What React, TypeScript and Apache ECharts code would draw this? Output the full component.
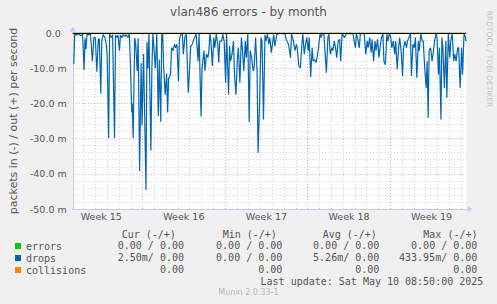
import React, { useEffect, useRef } from "react";
import * as echarts from "echarts";

// time in hours since Monday of Week 15, 00:00
const hours = [
  28, 30, 34, 38, 42, 46, 49, 51, 53, 55, 58, 62, 66, 69, 72, 75, 78, 80, 83, 85, 88, 91, 94, 96, 99,
  101, 104, 107, 111, 113, 116, 118, 121, 123, 126, 129, 132, 135, 138, 141, 143, 146, 147, 149, 152,
  154, 157, 159, 162, 165, 167, 170, 175, 177, 179, 181, 185, 187, 189, 194, 197, 200, 202, 205, 207,
  209, 211, 214, 217, 219, 221, 223, 225, 227, 230, 233, 235, 238, 241, 243, 246, 249, 251, 254, 257,
  261, 263, 266, 269, 271, 274, 277, 281, 283, 287, 289, 293, 295, 298, 301, 303, 305, 307, 310, 313,
  315, 318, 321, 323, 325, 329, 331, 334, 337, 339, 343, 345, 347, 350, 353, 355, 358, 361, 363, 366,
  369, 371, 374, 377, 379, 382, 385, 387, 390, 393, 395, 398, 401, 403, 406, 409, 411, 414, 417, 419,
  422, 425, 427, 430, 433, 435, 437, 441, 446, 452, 458, 460, 465, 469, 471, 475, 478, 481, 483, 486,
  489, 491, 494, 497, 499, 502, 505, 507, 510, 513, 515, 518, 521, 523, 526, 529, 531, 534, 537, 539,
  542, 545, 547, 550, 553, 555, 558, 561, 563, 566, 569, 571, 574, 579, 582, 588, 596, 601, 603, 606,
  609, 611, 619, 622, 625, 627, 630, 633, 635, 638, 641, 643, 646, 649, 651, 654, 657, 659, 662, 665,
  667, 670, 673, 675, 678, 681, 683, 686, 689, 691, 694, 697, 699, 702, 705, 707, 710, 713, 715, 718,
  721, 723, 726, 729, 731, 734, 737, 739, 742, 745, 747, 749, 751, 754, 757, 759, 762, 765, 767, 770,
  772, 775, 777, 779, 782, 785, 787, 790, 793, 795, 798, 801, 803, 806, 809, 811, 814, 817, 819, 822,
  825, 826,
];

// drops, "in" direction (negative), in milli-packets per second
const dropsIn = [
  -8.9, -0.3, -0.6, -0.2, -0.8, -0.3, -10.5, -1.5, -4.6, -0.3, -0.6, -0.2, -8.0, -1.2, -1.5, -11.0, -1.8, -1.6, -17.2, -2.2, -0.4, -1.2, -3.0, -6.5, -29.8,
  -0.3, -1.3, -0.5, -29.8, -0.5, -1.3, -0.6, -5.0, -0.6, -1.3, -0.4, -1.0, -0.5, -1.3, -0.3, -7.5, -22.5, -20, -29.8, -1.4,
  -3, -10.8, -1.5, -39.3, -8.5, -26.3, -6.0, -44.6, -2.5, -10, -0.3, -33.4, -10, -0.2, -10, -0.3, -23.6, -7.5, -25.2, -0.5,
  -0.3, -10, -17.5, -11.5, -22.6, -12.7, -12.5, -11.5, -4.2, -5.0, -3.2, -4.2, -3.2, -13.7, -1.8, -0.3, -0.2, -6.0, -1.3, -0.2,
  -17, -11.8, -3.7, -3.2, -2.3, -1.3, -0.2, -8, -0.3, -23.7, -10, -5, -10.8, -6, -7, -5, -0.2, -2.3, -9.4, -1.3,
  -4.2, -0.3, -3.2, -8.4, -2.3, -2.3, -0.3, -2.3, -14.1, -0.3, -17.5, -3.7, -8, -6, -2.3, -11.8, -17.5, -7, -4.2, -14.1,
  -1.3, -4.2, -10.8, -2.3, -7, -0.3, -25.2, -5, -7, -10.8, -9.9, -1.3, -10.8, -34, -20.3, -1.3, -2.3, -24.6, -0.5, -2.3,
  -0.3, -3.2, -1.3, -5.6, -2.3, -0.5, -3.7, -0.5, -0.1, -0.2, -0.1, -1.8, -3.2, -7, -0.2, -2.3, -5, -3.2, -4.6, -9.4,
  -9.9, -5.6, -0.2, -6, -3.7, -1.3, -5, -1.3, -12.5, -4.2, -8, -7.5, -8.4, -7, -4.2, -0.2, -1.3, -0.2, -0.5, -5,
  -11.3, -1.3, -0.2, -6, -4.2, -5, -2.3, -4.6, -7, -2.3, -1.8, -8, -0.2, -1.3, -0.2, -0.1, -0.2, -4.2, -0.2, -1.8,
  -4.2, -0.2, -0.2, -6, -2.3, -4.2, -1.3, -5.6, -1.8, -8, -2.3, -5, -1.8, -7, -4.2, -1.3, -0.2, -8, -9, -0.3,
  -2.3, -0.2, -1.3, -4.2, -2.3, -6, -2.3, -10.3, -4.2, -1.3, -5, -12.2, -4.2, -2.3, -4.2, -2.3, -1.3, -0.2, -12.2, -3.2,
  -4.2, -1.3, -12.7, -2.3, -5, -0.2, -2.3, -2.3, -9.9, -15.6, -8, -24.1, -5, -4.2, -8, -6, -2.3, -0.2, -1.3, -11.8,
  -4.2, -24.6, -1.3, -4.2, -15.6, -2.3, -18.4, -0.2, -7, -2.3, -0.2, -8, -6, -8, -4.2, -4.2, -15.6, -4.2, -11.8, -0.2,
  -1.3, -2.3,
];

const X_MIN = 26;
const X_MAX = 826;
const errorsValues = [0, 0];
const collisionsValues = [0, 0];

const weekLabels = ["Week 15", "Week 16", "Week 17", "Week 18", "Week 19"];
const weekLabelHours = [84, 252, 420, 588, 756];
const weekStartHours = [168, 336, 504, 672];

const legendNames = ["errors", "drops", "collisions"];
const seriesColors = ["#00CC00", "#0066B3", "#FF8000"];

const statHeaders = ["Cur (-/+)", "Min (-/+)", "Avg (-/+)", "Max (-/+)"];
const errorsStats = ["0.00 / 0.00", "0.00 / 0.00", "0.00 / 0.00", "0.00 / 0.00"];
const dropsStats = ["2.50m/ 0.00", "0.00 / 0.00", "5.26m/ 0.00", "433.95m/ 0.00"];
const collisionsStats = ["0.00", "0.00", "0.00", "0.00"];

const titleText = "vlan486 errors - by month";
const yName = "packets in (-) / out (+) per second";
const lastUpdate = "Last update: Sat May 10 08:50:00 2025";
const watermark = "RRDTOOL / TOBI OETIKER";
const footer = "Munin 2.0.33-1";

const SANS = '"DejaVu Sans", sans-serif';
const MONO = '"DejaVu Sans Mono", monospace';
const TEXT = "#555555";
const AXIS_COLOR = "#c8c8f4";
const MAJOR = "#e8a4a4";
const MINOR = "#d2d2d2";

export default function App() {
  const ref = useRef<HTMLDivElement>(null);

  useEffect(() => {
    if (!ref.current) return;
    const chart = echarts.init(ref.current, null, { renderer: "svg" });

    const dayLines: number[] = [];
    for (let h = 48; h < X_MAX; h += 24) {
      if (h % 168 !== 0) dayLines.push(h);
    }

    const headerX = [121.7, 222.7, 322.7, 423.3];
    const valueRight = [184, 282.3, 379.3, 477.3];
    const rowY = [245.7, 257.7, 269.7];
    const rows = [errorsStats, dropsStats, collisionsStats];

    const graphics: any[] = [];
    statHeaders.forEach((h, i) => {
      graphics.push({
        type: "text",
        x: headerX[i],
        y: 234,
        silent: true,
        style: { text: h, font: `10px ${MONO}`, fill: TEXT, align: "left", verticalAlign: "middle", textAlign: "left", textVerticalAlign: "middle" },
      });
    });
    rows.forEach((row, r) => {
      row.forEach((v, c) => {
        graphics.push({
          type: "text",
          x: valueRight[c],
          y: rowY[r],
          silent: true,
          style: { text: v, font: `10px ${MONO}`, fill: TEXT, align: "right", verticalAlign: "middle", textAlign: "right", textVerticalAlign: "middle" },
        });
      });
    });
    graphics.push({
      type: "text",
      x: 483.3,
      y: 281.7,
      silent: true,
      style: { text: lastUpdate, font: `10px ${MONO}`, fill: TEXT, align: "right", verticalAlign: "middle", textAlign: "right", textVerticalAlign: "middle" },
    });
    graphics.push({
      type: "text",
      x: 248.5,
      y: 292.7,
      silent: true,
      style: { text: footer, font: `8px ${SANS}`, fill: "#b8b8b8", align: "center", verticalAlign: "middle", textAlign: "center", textVerticalAlign: "middle" },
    });
    graphics.push({
      type: "text",
      x: 489,
      y: 59,
      rotation: -Math.PI / 2,
      silent: true,
      style: { text: watermark, font: `7.5px ${SANS}`, fill: "#c4c4c4", align: "center", verticalAlign: "middle", textAlign: "center", textVerticalAlign: "middle" },
    });

    const option: any = {
      animation: false,
      backgroundColor: "#f0f0f0",
      title: {
        text: titleText,
        left: "center",
        top: 6,
        padding: 0,
        textStyle: { fontFamily: SANS, fontSize: 12, fontWeight: "normal", color: TEXT },
      },
      legend: {
        data: legendNames,
        orient: "vertical",
        left: 15,
        top: 240,
        padding: 0,
        icon: "rect",
        itemWidth: 6,
        itemHeight: 6,
        itemGap: 0,
        selectedMode: false,
        textStyle: { fontFamily: MONO, fontSize: 10, color: TEXT, lineHeight: 12 },
      },
      grid: {
        left: 66,
        top: 33,
        width: 400,
        height: 176,
        show: true,
        backgroundColor: "#ffffff",
        borderWidth: 0,
      },
      xAxis: {
        type: "value",
        min: X_MIN,
        max: X_MAX,
        axisLine: {
          show: true,
          onZero: false,
          lineStyle: { color: AXIS_COLOR, width: 1 },
          symbol: ["none", "triangle"],
          symbolSize: [6, 5],
          symbolOffset: [0, 4],
        },
        axisTick: { show: false },
        splitLine: { show: false },
        axisLabel: {
          customValues: weekLabelHours,
          formatter: (v: number) => {
            const i = weekLabelHours.indexOf(v);
            return i >= 0 ? weekLabels[i] : "";
          },
          fontFamily: SANS,
          fontSize: 9.5,
          color: TEXT,
          margin: 2,
        },
      },
      yAxis: {
        type: "value",
        min: -50,
        max: 0,
        interval: 10,
        name: yName,
        nameLocation: "middle",
        nameGap: 48,
        nameTextStyle: { fontFamily: SANS, fontSize: 11, color: TEXT },
        axisLine: {
          show: true,
          lineStyle: { color: AXIS_COLOR, width: 1 },
          symbol: ["none", "triangle"],
          symbolSize: [6, 5],
          symbolOffset: [0, 4],
        },
        axisTick: { show: false },
        axisLabel: {
          margin: 6,
          formatter: (v: number) => (v === 0 ? "{z|0.0}" : "{n|" + v.toFixed(1) + " m}"),
          rich: {
            z: { fontFamily: SANS, fontSize: 9.5, color: TEXT, padding: [0, 6, 0, 0] },
            n: { fontFamily: SANS, fontSize: 9.5, color: TEXT },
          },
        },
        splitLine: { show: true, lineStyle: { color: MAJOR, width: 1, type: [1, 2] } },
        minorTick: { show: false, splitNumber: 5 },
        minorSplitLine: { show: true, lineStyle: { color: MINOR, width: 1, type: [1, 2] } },
      },
      series: [
        {
          name: "errors",
          type: "line",
          color: seriesColors[0],
          symbol: "none",
          lineStyle: { width: 1, color: seriesColors[0] },
          data: [X_MIN, X_MAX].map((h, i) => [h, errorsValues[i]]),
          z: 2,
          markLine: {
            silent: true,
            symbol: ["none", "none"],
            z: 1,
            label: { show: false },
            emphasis: { disabled: true },
            data: [
              ...dayLines.map((h) => ({ xAxis: h, lineStyle: { color: MINOR, width: 1, type: [1, 2] } })),
              ...weekStartHours.map((h) => ({ xAxis: h, lineStyle: { color: MAJOR, width: 1, type: [1, 2] } })),
            ],
          },
        },
        {
          name: "drops",
          type: "line",
          color: seriesColors[1],
          symbol: "none",
          showSymbol: false,
          lineStyle: { width: 1.2, color: seriesColors[1] },
          data: hours.map((h, i) => [h, dropsIn[i]]),
          z: 3,
          markLine: {
            silent: true,
            symbol: ["none", "none"],
            z: 6,
            label: { show: false },
            emphasis: { disabled: true },
            lineStyle: { color: "#000000", width: 1, type: "solid" },
            data: [{ yAxis: 0 }],
          },
        },
        {
          name: "collisions",
          type: "line",
          color: seriesColors[2],
          symbol: "none",
          lineStyle: { width: 1, color: seriesColors[2] },
          data: [X_MIN, X_MAX].map((h, i) => [h, collisionsValues[i]]),
          z: 2,
        },
      ],
      graphic: graphics,
    };

    chart.setOption(option);
    return () => chart.dispose();
  }, []);

  return (
    <div
      ref={ref}
      style={{ position: "fixed", left: 0, top: 0, width: 497, height: 304, background: "#f0f0f0" }}
    />
  );
}
